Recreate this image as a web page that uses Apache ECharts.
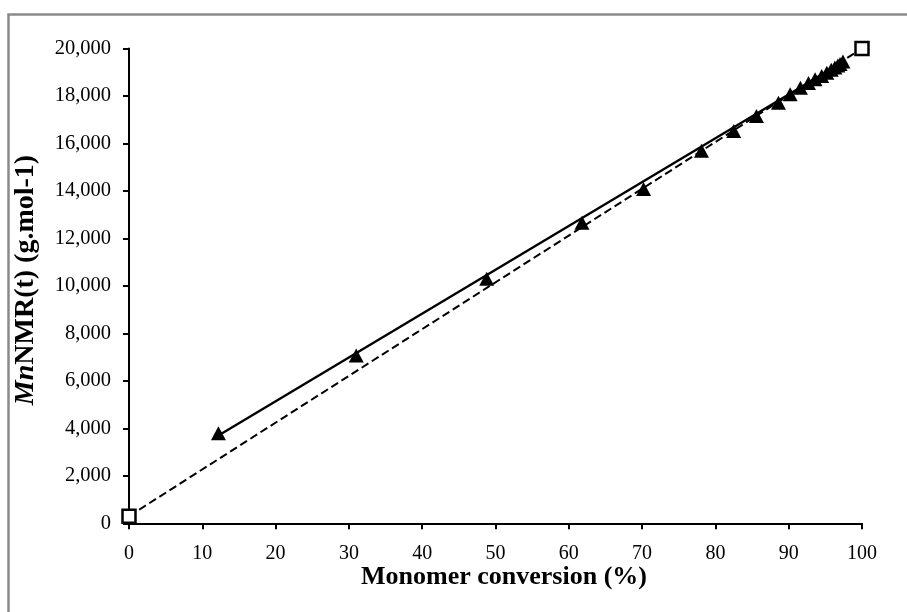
<!DOCTYPE html>
<html>
<head>
<meta charset="utf-8">
<script src="https://cdn.jsdelivr.net/npm/echarts@6/dist/echarts.min.js"></script>
<style>
  html, body { margin: 0; padding: 0; background: #fff; }
  #chart { width: 907px; height: 612px; }
</style>
</head>
<body>
<div id="chart"></div>
<script>
// Measured Mn by NMR against monomer conversion
const conversion = [12.2, 31.0, 48.8, 61.8, 70.2, 78.1, 82.5, 85.6, 88.6, 90.2, 91.6, 92.7, 93.6, 94.5, 95.2, 95.8, 96.3, 96.7, 97.0, 97.4];
const mnNMR      = [3790, 7070, 10300, 12660, 14080, 15690, 16530, 17160, 17710, 18070, 18350, 18550, 18700, 18840, 18980, 19100, 19200, 19280, 19350, 19450];

// Linear trend through the measured points (end points)
const trendX = [12.2, 97.4];
const trendY = [3700, 19430];

// Theoretical Mn line
const theoX = [0, 100];
const theoY = [300, 20000];

// Axis ticks
const xTicks = [0, 10, 20, 30, 40, 50, 60, 70, 80, 90, 100];
const yTicks = [0, 2000, 4000, 6000, 8000, 10000, 12000, 14000, 16000, 18000, 20000];

const pairs = (xs, ys) => xs.map((x, i) => [x, ys[i]]);
const serif = '"Liberation Serif", "DejaVu Serif", serif';

const chart = echarts.init(document.getElementById('chart'), null, { renderer: 'canvas' });
chart.setOption({
  animation: false,
  backgroundColor: '#ffffff',
  grid: { left: 129, right: 45, top: 48.5, bottom: 88.7, containLabel: false },
  xAxis: {
    type: 'value',
    min: xTicks[0], max: xTicks[xTicks.length - 1], interval: 10,
    axisLine: { onZero: false, lineStyle: { color: '#000', width: 2 } },
    axisTick: { show: true, inside: false, length: 6, lineStyle: { color: '#000', width: 2 } },
    axisLabel: { color: '#000', fontFamily: serif, fontSize: 20, margin: 20 },
    splitLine: { show: false }
  },
  yAxis: {
    type: 'value',
    min: yTicks[0], max: yTicks[yTicks.length - 1], interval: 2000,
    axisLine: { show: true, onZero: false, lineStyle: { color: '#000', width: 2 } },
    axisTick: { show: true, inside: false, length: 6, lineStyle: { color: '#000', width: 2 } },
    axisLabel: {
      color: '#000', fontFamily: serif, fontSize: 20.5, margin: 18,
      formatter: v => v.toLocaleString('en-US')
    },
    splitLine: { show: false }
  },
  graphic: [
    {
      type: 'rect', silent: true, z: 100,
      shape: { x: 8.5, y: 14.5, width: 1200, height: 1200 },
      style: { fill: 'none', stroke: '#8a8a8a', lineWidth: 2.5 }
    },
    {
      type: 'text', silent: true,
      x: 504, y: 577,
      style: {
        text: 'Monomer conversion (%)',
        fontFamily: serif, fontSize: 26, fontWeight: 'bold', fill: '#000',
        align: 'center', verticalAlign: 'middle'
      }
    },
    {
      type: 'text', silent: true,
      x: 26, y: 280, rotation: Math.PI / 2,
      style: {
        text: '{i|Mn}{b|NMR(t) (g.mol-1)}',
        align: 'center', verticalAlign: 'middle',
        rich: {
          i: { fontFamily: serif, fontSize: 28, fontWeight: 'bold', fontStyle: 'italic', fill: '#000' },
          b: { fontFamily: serif, fontSize: 28, fontWeight: 'bold', fill: '#000' }
        }
      }
    }
  ],
  series: [
    {
      name: 'theoretical',
      type: 'line',
      data: pairs(theoX, theoY),
      symbol: 'rect', symbolSize: 13,
      itemStyle: { color: '#fff', borderColor: '#000', borderWidth: 2.5, opacity: 1 },
      lineStyle: { color: '#000', width: 2, type: [8, 4] },
      z: 3
    },
    {
      name: 'trend',
      type: 'line',
      data: pairs(trendX, trendY),
      symbol: 'none',
      lineStyle: { color: '#000', width: 2.4 },
      z: 2
    },
    {
      name: 'measured',
      type: 'scatter',
      data: pairs(conversion, mnNMR),
      symbol: 'triangle', symbolSize: [15, 14],
      itemStyle: { color: '#000', opacity: 1 },
      z: 4
    }
  ]
});
</script>
</body>
</html>
